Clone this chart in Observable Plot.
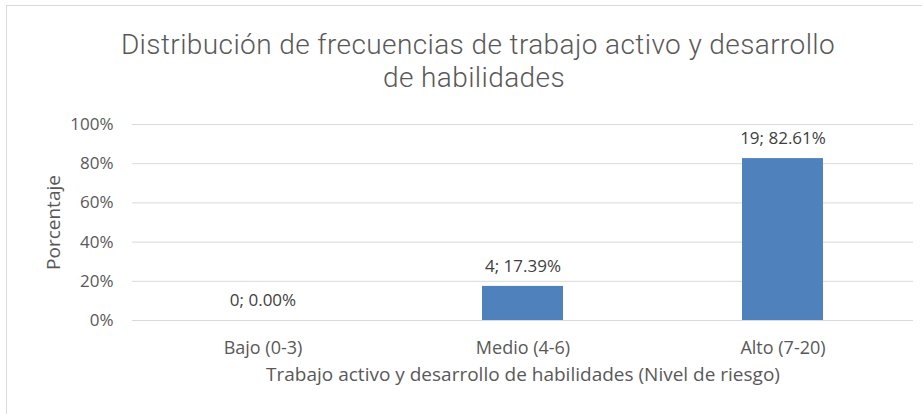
<!DOCTYPE html>
<html>
<head>
<meta charset="utf-8">
<script src="https://cdn.jsdelivr.net/npm/d3@7"></script>
<script src="https://cdn.jsdelivr.net/npm/@observablehq/plot@0.6"></script>
<style>
  html, body { margin: 0; padding: 0; background: #fff; }
  #wrap { position: relative; width: 922px; height: 414px; overflow: hidden; font-family: "Open Sans", sans-serif; }
  #frame { position: absolute; left: 6px; top: 5px; width: 930px; height: 430px; border: 1px solid #d9d9d9; box-sizing: border-box; }
  .title { position: absolute; left: 0; width: 956px; height: 33px; text-align: center; font-family: Roboto, sans-serif; font-size: 28px; font-weight: 300; letter-spacing: 0.4px; color: #595959; line-height: 33px; white-space: nowrap; }
  #t1 { top: 28px; }
  #t2 { top: 61px; width: 948px; }
  #chart { position: absolute; left: 0; top: 0; }
</style>
</head>
<body>
<div id="wrap">
  <div id="frame"></div>
  <div id="chart"></div>
  <div class="title" id="t1">Distribución de frecuencias de trabajo activo y desarrollo</div>
  <div class="title" id="t2">de habilidades</div>
</div>
<script>
const categories = ["Bajo (0-3)", "Medio (4-6)", "Alto (7-20)"];
const counts = [0, 4, 19];
const percents = [0.00, 17.39, 82.61];
const yTicks = [0, 20, 40, 60, 80, 100];

const data = categories.map((c, i) => ({cat: c, n: counts[i], pct: percents[i]}));

const chart = Plot.plot({
  width: 922,
  height: 414,
  marginLeft: 132,
  marginRight: 9,
  marginTop: 124,
  marginBottom: 94,
  style: {fontFamily: "Open Sans, sans-serif", fontSize: "17px", color: "#595959", background: "transparent"},
  x: {domain: categories, paddingInner: 0.69, paddingOuter: 0.345},
  y: {domain: [0, 100]},
  marks: [
    Plot.gridY(yTicks, {stroke: "#d9d9d9", strokeOpacity: 1, strokeWidth: 1}),
    Plot.axisY(yTicks, {tickSize: 0, tickPadding: 19, tickFormat: d => d + "%", label: null, fill: "#595959", fontSize: 17}),
    Plot.axisX({tickSize: 0, tickPadding: 21, label: null, fill: "#595959", fontSize: 18}),
    Plot.barY(data, {x: "cat", y: "pct", fill: "#4f81bd"}),
    Plot.ruleY([0], {stroke: "#d9d9d9"}),
    Plot.text(data, {x: "cat", y: "pct", text: d => `${d.n}; ${d.pct.toFixed(2)}%`, dy: -20, fill: "#404040", fontSize: 17}),
    Plot.text(["Porcentaje"], {frameAnchor: "left", textAnchor: "middle", dx: -79, rotate: -90, fill: "#595959", fontSize: 19}),
    Plot.text(["Trabajo activo y desarrollo de habilidades (Nivel de riesgo)"], {frameAnchor: "bottom", dy: 60, fill: "#595959", fontSize: 19})
  ]
});
document.getElementById("chart").append(chart);
</script>
</body>
</html>
